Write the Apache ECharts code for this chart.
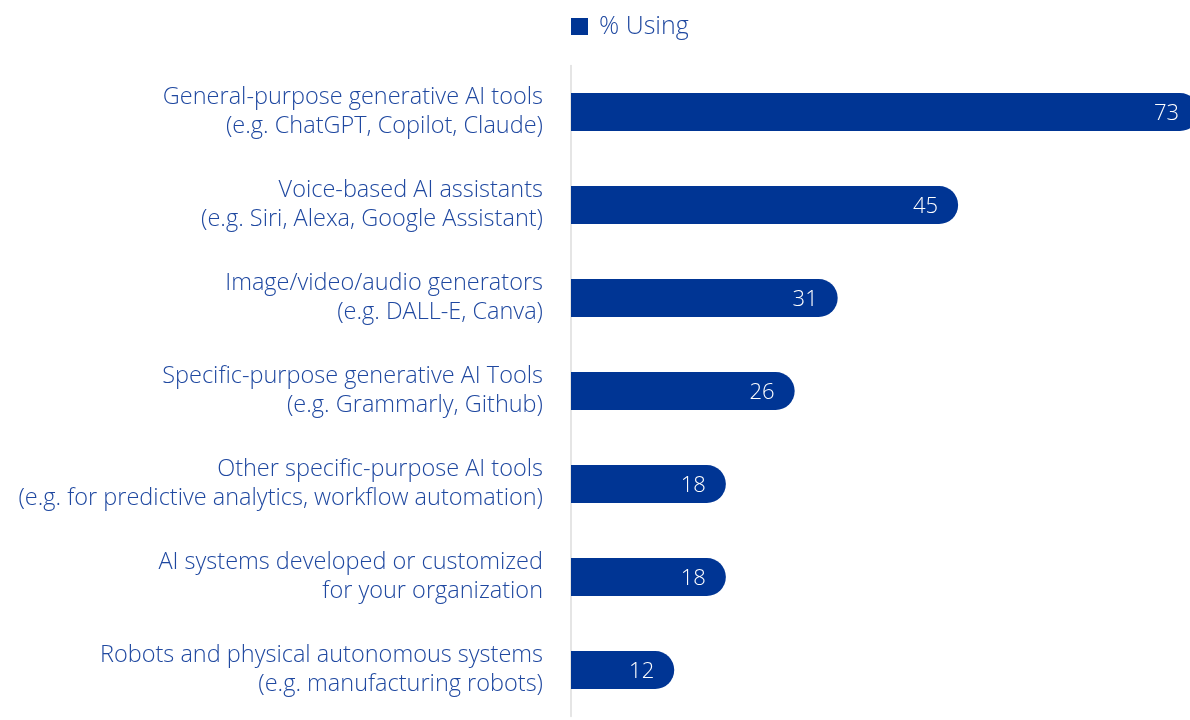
<!DOCTYPE html>
<html>
<head>
<meta charset="utf-8">
<script src="https://cdn.jsdelivr.net/npm/echarts@6/dist/echarts.min.js"></script>
<style>
  html, body { margin: 0; padding: 0; background: #fff; }
  #chart { width: 1190px; height: 720px; }
</style>
</head>
<body>
<div id="chart"></div>
<script>
// 类别（从上到下）
const categories = [
  'General-purpose generative AI tools\n(e.g. ChatGPT, Copilot, Claude)',
  'Voice-based AI assistants\n(e.g. Siri, Alexa, Google Assistant)',
  'Image/video/audio generators\n(e.g. DALL-E, Canva)',
  'Specific-purpose generative AI Tools\n(e.g. Grammarly, Github)',
  'Other specific-purpose AI tools\n(e.g. for predictive analytics, workflow automation)',
  'AI systems developed or customized\nfor your organization',
  'Robots and physical autonomous systems\n(e.g. manufacturing robots)'
]
const usingValues = [73, 45, 31, 26, 18, 18, 12]
const seriesName = '% Using'

const NAVY = '#003594'
const TEXT = '#1f48a0'
const FONT = '"Open Sans", "Liberation Sans", sans-serif'

const chart = echarts.init(document.getElementById('chart'))

// 顶部的条形超出画布右侧，原图中被裁切
chart.setOption({
  animation: false,
  textStyle: { fontFamily: FONT },
  legend: {
    data: [seriesName],
    left: 566,
    top: 9,
    itemWidth: 17,
    itemHeight: 17,
    itemGap: 10,
    icon: 'rect',
    textStyle: { color: TEXT, fontSize: 25, fontWeight: 300, fontFamily: FONT, padding: [0, 0, 0, 6] }
  },
  grid: {
    left: 571,
    top: 65.5,
    width: 628,
    height: 651,
    containLabel: false,
    outerBoundsMode: 'none'
  },
  xAxis: {
    type: 'value',
    min: 0,
    max: 73,
    show: false
  },
  yAxis: {
    type: 'category',
    inverse: true,
    data: categories,
    axisLine: { show: true, lineStyle: { color: '#dddddd', width: 1.5 } },
    axisTick: { show: false },
    axisLabel: {
      color: TEXT,
      fontSize: 23.5,
      fontWeight: 300,
      lineHeight: 29,
      margin: 28,
      align: 'right',
      fontFamily: FONT
    }
  },
  series: [
    {
      name: seriesName,
      type: 'bar',
      data: usingValues,
      barWidth: 38,
      itemStyle: {
        color: NAVY,
        borderRadius: [0, 19, 19, 0]
      },
      label: {
        show: true,
        position: 'insideRight',
        distance: 20,
        offset: [0, 2],
        color: '#ffffff',
        fontSize: 22,
        fontWeight: 300,
        fontFamily: FONT
      }
    }
  ]
})
</script>
</body>
</html>
